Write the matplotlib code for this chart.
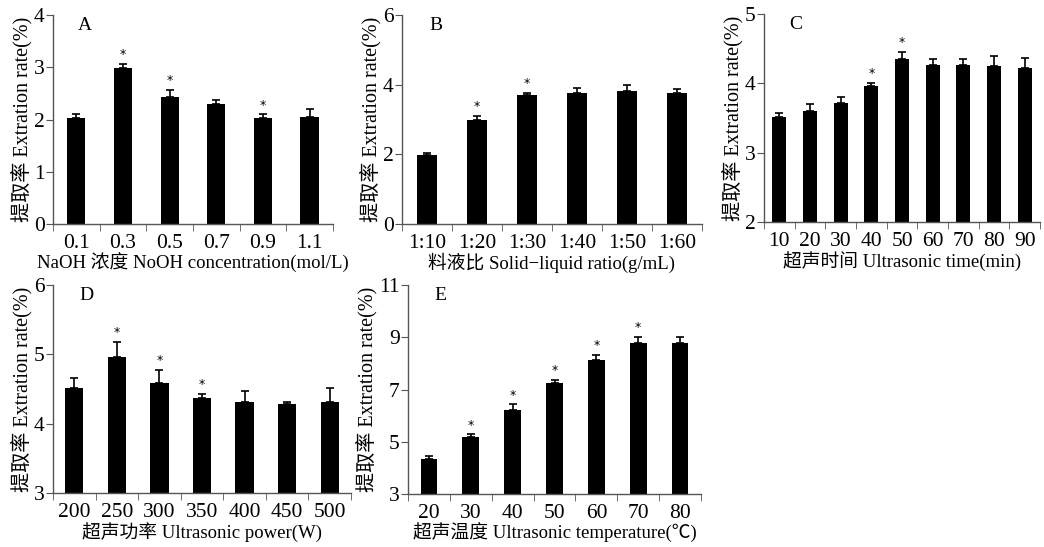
import numpy as np
import matplotlib
matplotlib.use("Agg")
import matplotlib.pyplot as plt

plt.rcParams["font.family"] = ["Liberation Serif", "Noto Sans CJK SC"]
plt.rcParams["axes.unicode_minus"] = False

# A: NaOH concentration
a_cats = ["0.1", "0.3", "0.5", "0.7", "0.9", "1.1"]
a_vals = [2.02, 2.99, 2.44, 2.29, 2.02, 2.04]
a_errs = [0.08, 0.08, 0.12, 0.08, 0.08, 0.17]
a_star = [False, True, True, False, True, False]

# B: solid-liquid ratio
b_cats = ["1:10", "1:20", "1:30", "1:40", "1:50", "1:60"]
b_vals = [1.98, 2.99, 3.71, 3.75, 3.82, 3.75]
b_errs = [0.05, 0.11, 0.06, 0.16, 0.17, 0.14]
b_star = [False, True, True, False, False, False]

# C: ultrasonic time
c_cats = ["10", "20", "30", "40", "50", "60", "70", "80", "90"]
c_vals = [3.52, 3.60, 3.72, 3.97, 4.35, 4.26, 4.26, 4.25, 4.23]
c_errs = [0.05, 0.11, 0.08, 0.04, 0.11, 0.09, 0.10, 0.14, 0.14]
c_star = [False, False, False, True, True, False, False, False, False]

# D: ultrasonic power
d_cats = ["200", "250", "300", "350", "400", "450", "500"]
d_vals = [4.52, 4.97, 4.59, 4.37, 4.31, 4.28, 4.31]
d_errs = [0.14, 0.21, 0.19, 0.06, 0.16, 0.04, 0.20]
d_star = [False, True, True, True, False, False, False]

# E: ultrasonic temperature
e_cats = ["20", "30", "40", "50", "60", "70", "80"]
e_vals = [4.33, 5.17, 6.21, 7.26, 8.13, 8.79, 8.80]
e_errs = [0.12, 0.11, 0.22, 0.10, 0.19, 0.23, 0.20]
e_star = [False, True, True, True, True, True, False]

ylab = "提取率 Extration rate(%)"
spine_col = "#555555"

panels = [
    # rect, cats, vals, errs, stars, ylim, yticks, letter, xlabel, bar width
    ([0.0508, 0.5905, 0.268, 0.382], a_cats, a_vals, a_errs, a_star, (0, 4), [0, 1, 2, 3, 4],
     "A", "NaOH 浓度 NoOH concentration(mol/L)", 0.39),
    ([0.385, 0.5905, 0.2874, 0.382], b_cats, b_vals, b_errs, b_star, (0, 6), [0, 2, 4, 6],
     "B", "料液比 Solid−liquid ratio(g/mL)", 0.41),
    ([0.7318, 0.5941, 0.2644, 0.380], c_cats, c_vals, c_errs, c_star, (2, 5), [2, 3, 4, 5],
     "C", "超声时间 Ultrasonic time(min)", 0.46),
    ([0.0508, 0.0987, 0.2854, 0.380], d_cats, d_vals, d_errs, d_star, (3, 6), [3, 4, 5, 6],
     "D", "超声功率 Ultrasonic power(W)", 0.43),
    ([0.3908, 0.0969, 0.2807, 0.382], e_cats, e_vals, e_errs, e_star, (3, 11), [3, 5, 7, 9, 11],
     "E", "超声温度 Ultrasonic temperature(℃)", 0.40),
]

fig = plt.figure(figsize=(10.44, 5.47), dpi=100)

for rect, cats, vals, errs, stars, ylim, yticks, letter, xlabel, bw in panels:
    ax = fig.add_axes(rect)
    x = np.arange(len(cats))
    lo = np.zeros(len(vals))
    ax.bar(x, vals, width=bw, color="black", zorder=2)
    ax.errorbar(x, vals, yerr=[lo, errs], fmt="none", ecolor="black",
                elinewidth=1.2, capsize=3, capthick=1.2, zorder=3)
    for xi, v, e, s in zip(x, vals, errs, stars):
        if s:
            ax.annotate("*", (xi, v + e), xytext=(0, 2), textcoords="offset points",
                        ha="center", va="bottom", fontsize=9, family="DejaVu Sans")
    ax.set_xlim(-0.5, len(cats) - 0.5)
    ax.set_ylim(*ylim)
    ax.set_yticks(yticks)
    ax.set_xticks(x)
    ax.set_xticklabels(cats)
    ax.set_xticks(np.arange(len(cats) + 1) - 0.5, minor=True)
    ax.tick_params(axis="x", which="major", length=0, labelsize=15.5, pad=7)
    ax.tick_params(axis="x", which="minor", length=5, color=spine_col, direction="out")
    ax.tick_params(axis="y", length=5, color=spine_col, labelsize=15.5, pad=1)
    for sp in ["top", "right"]:
        ax.spines[sp].set_visible(False)
    for sp in ["left", "bottom"]:
        ax.spines[sp].set_color(spine_col)
        ax.spines[sp].set_linewidth(1.0)
    ax.set_ylabel(ylab, fontsize=14.5, labelpad=1)
    ax.set_xlabel(xlabel, fontsize=13.5, labelpad=0)
    ax.text(0.09, 0.95, letter, transform=ax.transAxes, fontsize=14,
            ha="left", va="center")

fig.savefig("out.png", dpi=100)
